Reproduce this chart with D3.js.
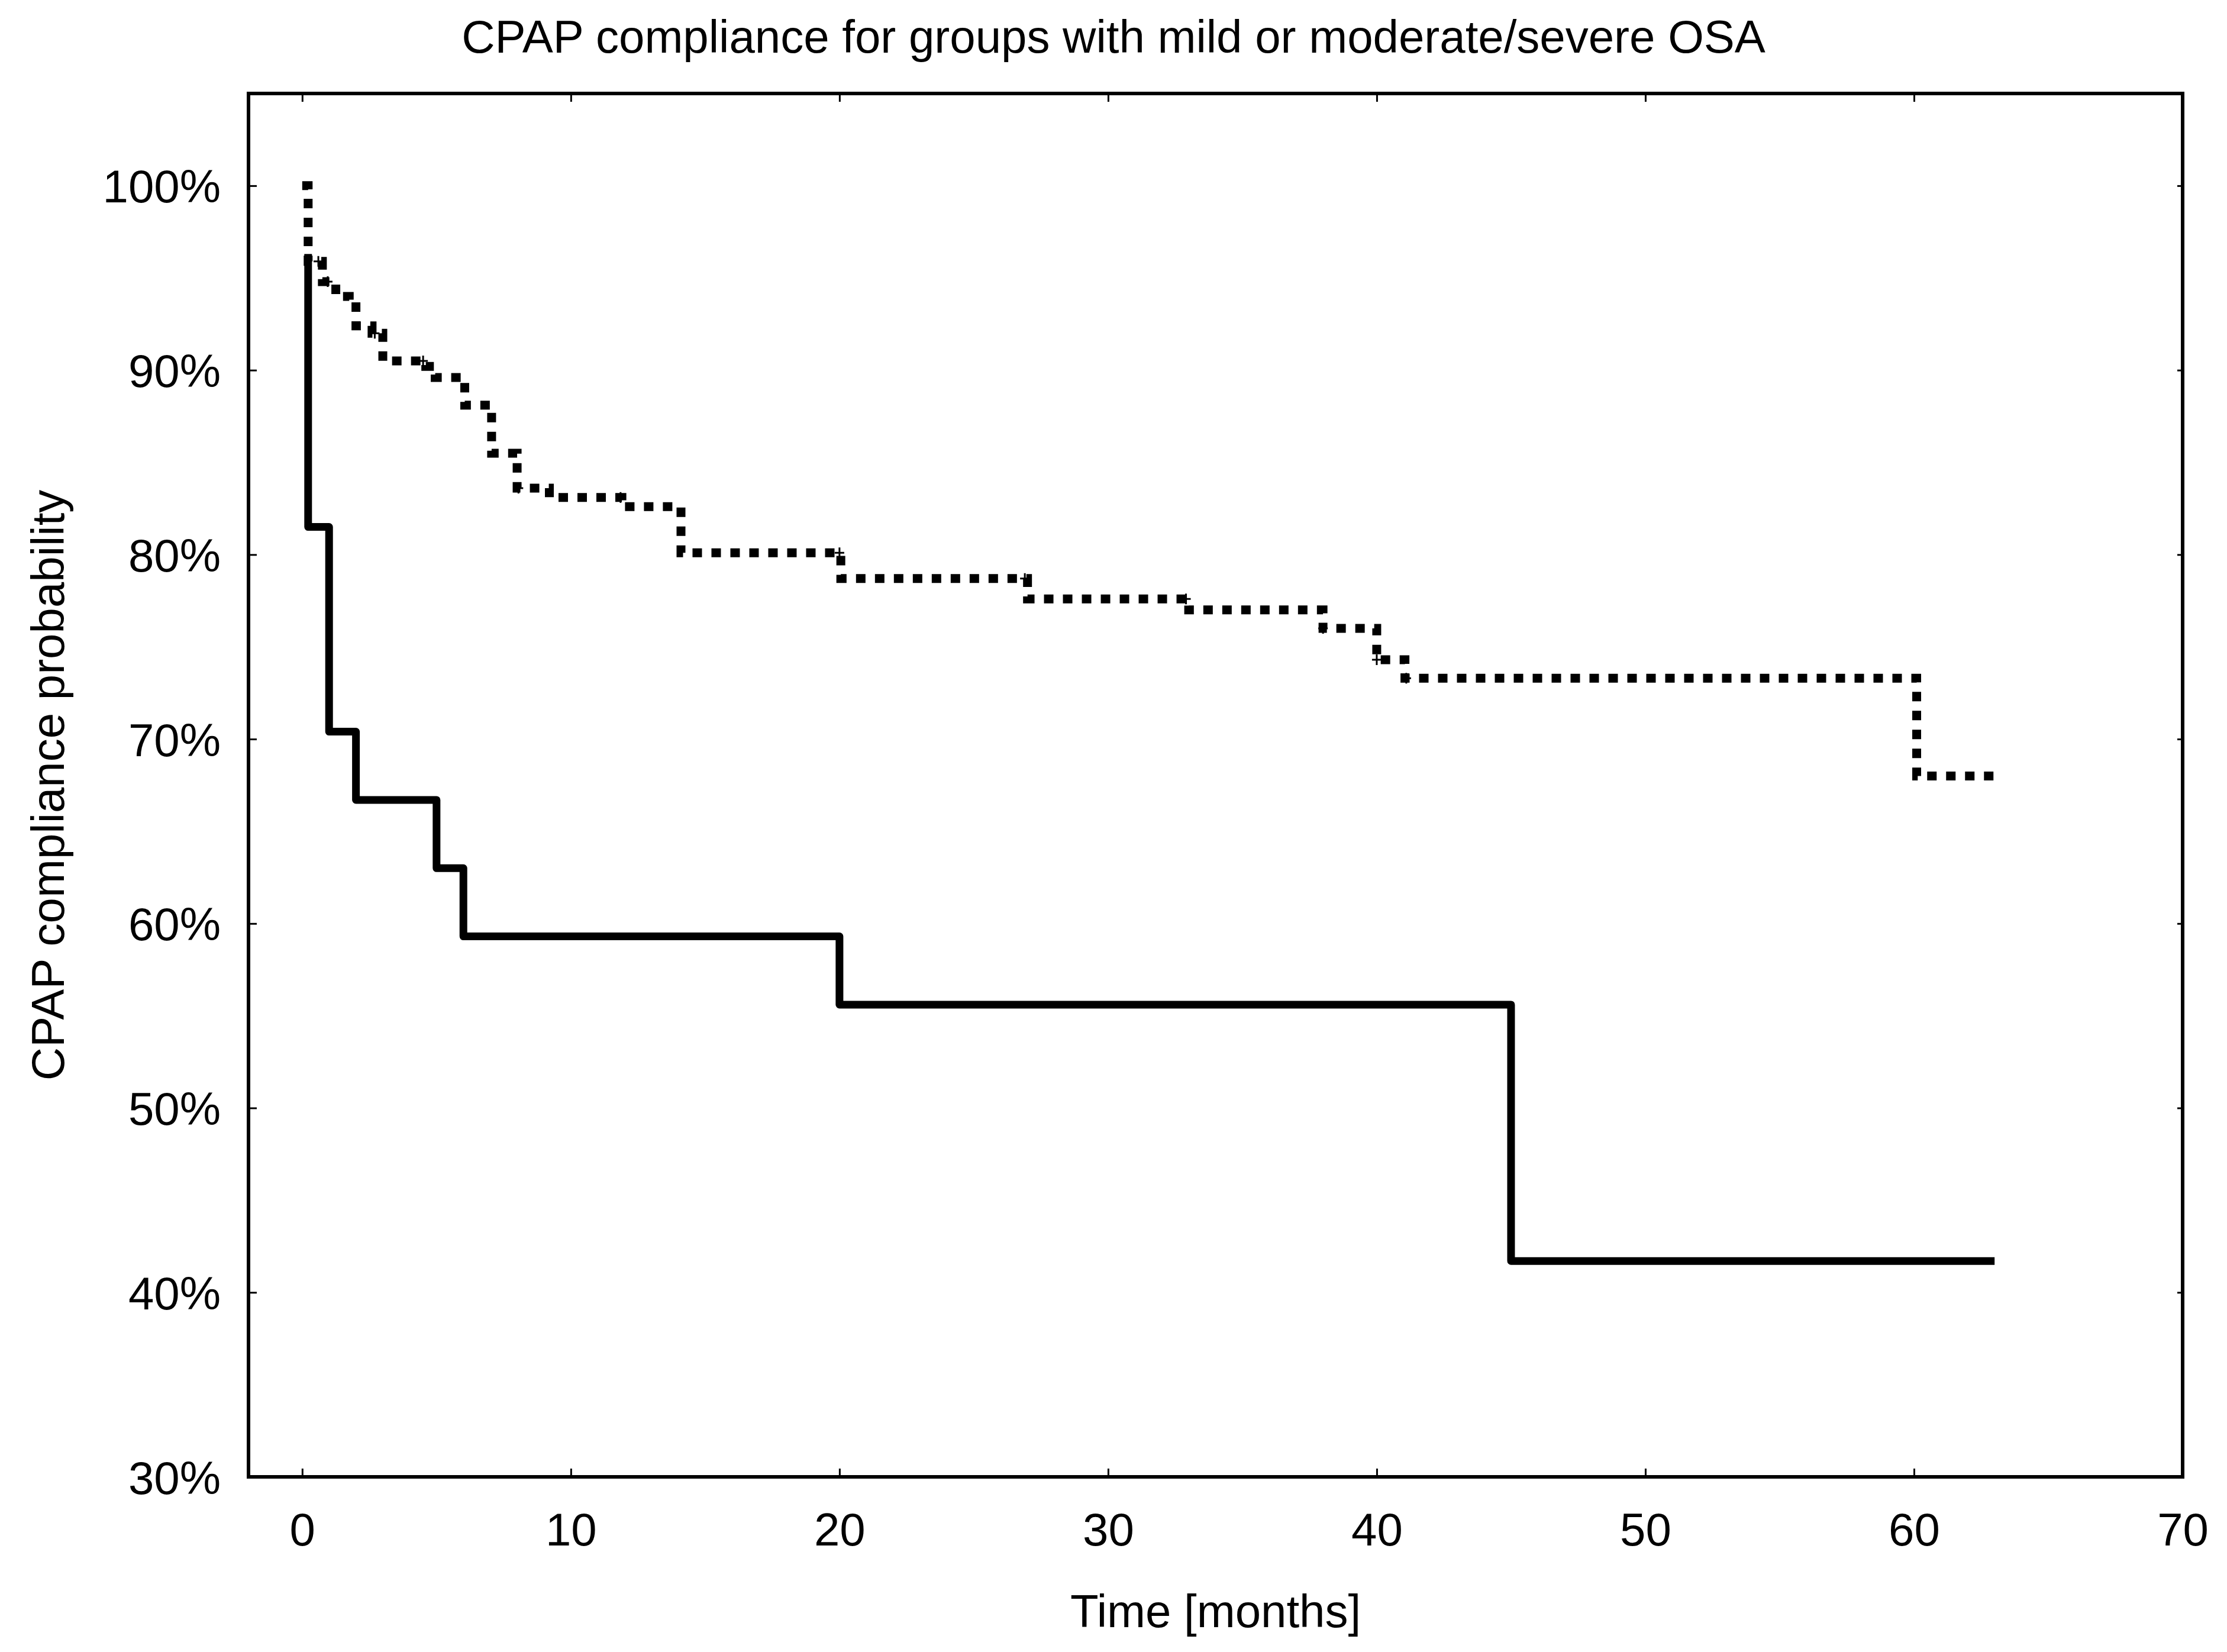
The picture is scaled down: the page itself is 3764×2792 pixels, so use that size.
<!DOCTYPE html>
<html lang="en">
<head>
<meta charset="UTF-8">
<script src="https://cdnjs.cloudflare.com/ajax/libs/d3/7.8.5/d3.min.js"></script>
<title>CPAP compliance</title>
<style>
    body { margin: 0; background: #fff; }
    svg text { font-family: "Liberation Sans", Arial, sans-serif; fill: #000; }
    .axis .domain { display: none; }
    .axis .tick line { stroke: #000; stroke-width: 3px; }
</style>
</head>
<body>
<svg id="canvas" width="3764" height="2792"></svg>
<script>
    // moderate/severe group (solid) - step times and survival after each step
    var solidTimes = [0.22, 0.22, 1, 2, 5, 6, 20, 45, 63];
    var solidSurv  = [96.3, 81.5, 70.4, 66.7, 63.0, 59.3, 55.6, 41.7, 41.7];

    // mild group (dotted)
    var dotTimes = [0, 0.22, 0.75, 1.25, 1.75, 2.0, 2.6, 3.0, 4.6, 4.95, 6.05, 7.05, 8.0, 9.2, 11.9, 14.1, 20.05, 27.0, 33.0, 38.0, 40.0, 41.05, 60.1, 63];
    var dotSurv  = [100, 95.9, 94.8, 94.0, 93.7, 92.4, 92.0, 90.5, 90.2, 89.6, 88.1, 85.5, 83.6, 83.1, 82.6, 80.1, 78.7, 77.6, 77.0, 76.0, 74.3, 73.3, 68.0, 68.0];

    // censored observations on the dotted curve
    var dotCensor = [0.6, 0.95, 2.7, 4.5, 8.05, 11.85, 20.0, 26.9, 32.9, 38.0, 40.0, 41.1];

    var xTicks = [0, 10, 20, 30, 40, 50, 60, 70];
    var yTicks = [30, 40, 50, 60, 70, 80, 90, 100];

    var svg = d3.select("svg#canvas"),
        pLeft = 420, pRight = 3689, pTop = 158, pBottom = 2496;

    var x = d3.scaleLinear().domain([-2, 70]).range([pLeft, pRight]),
        y = d3.scaleLinear().domain([30, 105]).range([pBottom, pTop]);

    svg.append("rect").attr("width", 3764).attr("height", 2792).attr("fill", "#fff");

    // axes with inward ticks
    var gx = svg.append("g").attr("class", "axis")
        .attr("transform", "translate(0," + pBottom + ")")
        .call(d3.axisBottom(x).tickValues(xTicks).tickSize(-14));
    gx.selectAll("text").attr("y", 116).attr("dy", null).style("font-size", "78px");

    var gy = svg.append("g").attr("class", "axis")
        .attr("transform", "translate(" + pLeft + ",0)")
        .call(d3.axisLeft(y).tickValues(yTicks).tickSize(-14).tickFormat(function(d) { return d + "%"; }));
    gy.selectAll("text").attr("x", -47).attr("dy", "0.36em").style("font-size", "78px");

    svg.append("g").attr("class", "axis")
        .attr("transform", "translate(0," + pTop + ")")
        .call(d3.axisTop(x).tickValues(xTicks).tickSize(-14).tickFormat(""));
    svg.append("g").attr("class", "axis")
        .attr("transform", "translate(" + pRight + ",0)")
        .call(d3.axisRight(y).tickValues(yTicks).tickSize(-9).tickFormat(""));

    svg.append("rect")
        .attr("x", pLeft).attr("y", pTop)
        .attr("width", pRight - pLeft).attr("height", pBottom - pTop)
        .attr("fill", "none").attr("stroke", "#000").attr("stroke-width", 6);

    var line = d3.line()
        .x(function(d) { return x(d[0]); })
        .y(function(d) { return y(d[1]); })
        .curve(d3.curveStepAfter);

    var solid = d3.zip(solidTimes, solidSurv),
        dotted = d3.zip(dotTimes, dotSurv);

    svg.append("path").attr("d", line(dotted)).call(function(s) {
        s.attr("fill", "none");
        s.attr("stroke", "#000");
        s.attr("stroke-width", 15);
        s.attr("stroke-dasharray", "16,16");
    });

    // censor marks
    function survAt(t) {
        var i = d3.bisectRight(dotTimes, t) - 1;
        return dotSurv[Math.max(0, i)];
    }
    svg.append("g").selectAll("path").data(dotCensor).join("path")
        .attr("d", function(t) {
            var cx = x(t), cy = y(survAt(t));
            return "M" + (cx - 8) + "," + cy + "H" + (cx + 8) + "M" + cx + "," + (cy - 9) + "V" + (cy + 9);
        })
        .attr("stroke", "#000").attr("stroke-width", 3).attr("fill", "none");

    svg.append("path").attr("d", line(solid)).call(function(s) {
        s.attr("fill", "none");
        s.attr("stroke", "#000");
        s.attr("stroke-width", 13);
        s.attr("stroke-linejoin", "round");
    });

    // titles
    svg.append("text").attr("x", 1882).attr("y", 89)
        .attr("text-anchor", "middle").style("font-size", "78px")
        .text("CPAP compliance for groups with mild or moderate/severe OSA");
    svg.append("text").attr("x", (pLeft + pRight) / 2).attr("y", 2750)
        .attr("text-anchor", "middle").style("font-size", "78px")
        .text("Time [months]");
    svg.append("text")
        .attr("transform", "translate(108," + ((pTop + pBottom) / 2) + ") rotate(-90)")
        .attr("text-anchor", "middle").style("font-size", "78px")
        .text("CPAP compliance probability");
</script>
</body>
</html>
